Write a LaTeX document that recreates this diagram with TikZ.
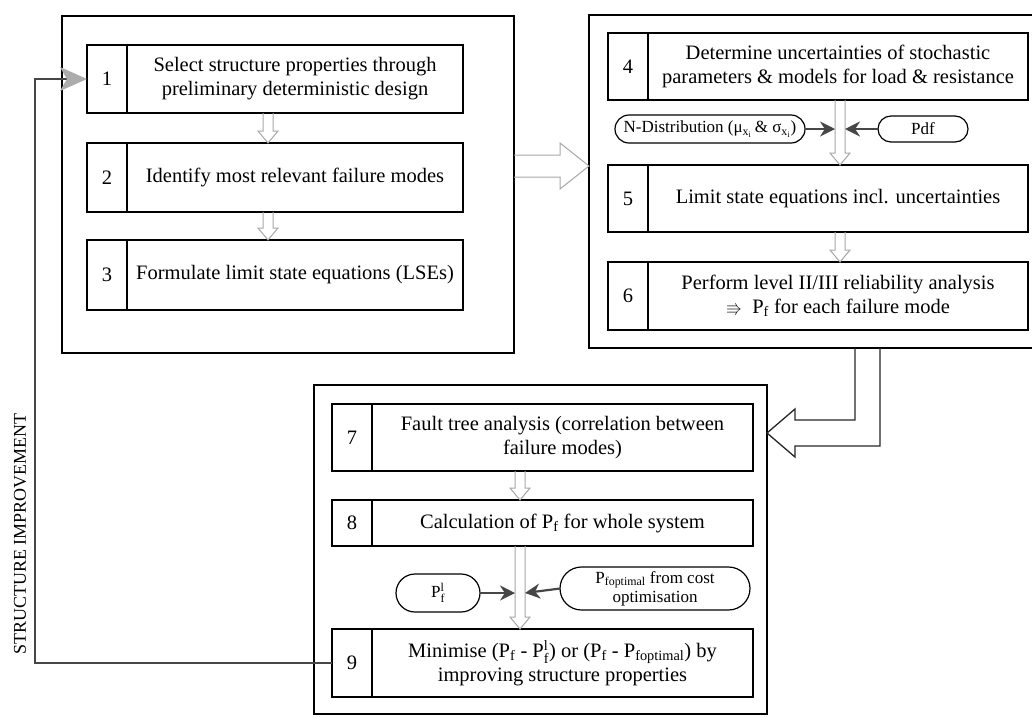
\documentclass[tikz,border=0pt]{standalone}
\usepackage{fontspec}
\setmainfont{Liberation Serif}
\usepackage{amssymb}
\usepackage{tikz}
\usetikzlibrary{positioning,arrows.meta,shapes.misc,calc}
\tikzset{
	every picture/.style={x=1pt, y=-1pt},
	outerbox/.style={draw, line width=1.6pt, outer sep=0pt},
	numbox/.style={draw, line width=1.4pt, outer sep=0pt, inner sep=0pt, minimum width=40, font=\fontsize{20.5}{24}\selectfont},
	textbox/.style={draw, line width=1.4pt, outer sep=0pt, inner sep=2pt, align=center, font=\fontsize{20.5}{24}\selectfont},
	oval/.style={draw, rounded rectangle, line width=1.2pt, outer sep=0pt, inner sep=0pt, align=center, font=\fontsize{17}{19}\selectfont},
	hollow/.style={draw=gray!70, line width=1pt},
	elbow/.style={draw=black!85, line width=1.3pt},
	feed/.style={draw=gray!55!black, line width=2pt},
	ovalarrow/.style={draw=gray!55!black, line width=2.2pt, -{Stealth[length=15pt,width=15pt,color=gray!55!black]}},
	>=latex
}
\newcommand{\Pf}{P\textsubscript{f}}
\newcommand{\Pfl}{$\mathrm{P}_{\mathrm{f}}^{\mathrm{l}}$}
% hollow arrow: from node, to node, x position
\newcommand{\hollowdown}[3]{%
	\draw[hollow] let \p0=(#3,0), \p1=(#1.south), \p2=(#2.north) in
	(\x0-5,\y1) -- (\x0-5,\y2+12) -- (\x0-10,\y2+12) -- (\x0,\y2) -- (\x0+10,\y2+12) -- (\x0+5,\y2+12) -- (\x0+5,\y1);}

\begin{document}
\begin{tikzpicture}
	\useasboundingbox (0,0) rectangle (1032,716);
	
	% three stages
	\node[outerbox, minimum width=452, minimum height=337] (boxA) at (288,184.5) {};
	\node[outerbox, minimum width=445, minimum height=333] (boxB) at (811.5,181.5) {};
	\node[outerbox, minimum width=453, minimum height=329] (boxC) at (540.5,549.5) {};
	
	% stage A
	\node[numbox, minimum height=68] (n1) at (107,79) {1};
	\node[textbox, minimum width=336, minimum height=68, right=0pt of n1] (b1) {Select structure properties through\\preliminary deterministic design};
	\node[numbox, minimum height=69] (n2) at (107,177.5) {2};
	\node[textbox, minimum width=336, minimum height=69, right=0pt of n2] (b2) {Identify most relevant failure modes};
	\node[numbox, minimum height=70] (n3) at (107,275) {3};
	\node[textbox, minimum width=336, minimum height=70, right=0pt of n3] (b3) {Formulate limit state equations (LSEs)};
	\hollowdown{b1}{b2}{268}
	\hollowdown{b2}{b3}{268}
	
	% stage B
	\node[numbox, minimum height=67] (n4) at (628,66.5) {4};
	\node[textbox, minimum width=380, minimum height=67, right=0pt of n4] (b4) {Determine uncertainties of stochastic\\parameters \& models for load \& resistance};
	\node[oval, minimum width=190, minimum height=28] (ndist) at (710,129) {N-Distribution (μ\textsubscript{x\textsubscript{i}}\,\& σ\textsubscript{x\textsubscript{i}})};
	\node[oval, minimum width=90, minimum height=26] (pdf) at (923,129) {Pdf};
	\node[numbox, minimum height=67] (n5) at (628,198.5) {5};
	\node[textbox, minimum width=380, minimum height=67, right=0pt of n5] (b5) {Limit state equations incl. uncertainties};
	\node[numbox, minimum height=68] (n6) at (628,296) {6};
	\node[textbox, minimum width=380, minimum height=68, right=0pt of n6] (b6) {Perform level II/III reliability analysis\\{\fontsize{16}{16}\selectfont$\Rrightarrow$}\ \ \Pf{} for each failure mode};
	\coordinate (s4) at (840,129);
	\hollowdown{b4}{b5}{840}
	\hollowdown{b5}{b6}{840}
	\draw[ovalarrow] (ndist.east) -- ([xshift=-5]s4);
	\draw[ovalarrow] (pdf.west) -- ([xshift=5]s4);
	
	% stage C
	\node[numbox, minimum height=67] (n7) at (352,437.5) {7};
	\node[textbox, minimum width=381, minimum height=67, right=0pt of n7] (b7) {Fault tree analysis (correlation between\\failure modes)};
	\node[numbox, minimum height=46] (n8) at (352,523) {8};
	\node[textbox, minimum width=381, minimum height=46, right=0pt of n8] (b8) {Calculation of \Pf{} for whole system};
	\node[oval, minimum width=84, minimum height=38] (pfl) at (438,593) {\Pfl};
	\node[oval, minimum width=190, minimum height=43] (popt) at (655,588.5) {P\textsubscript{foptimal} from cost\\optimisation};
	\node[numbox, minimum height=68] (n9) at (352,663) {9};
	\node[textbox, minimum width=381, minimum height=68, right=0pt of n9] (b9) {Minimise (\Pf{} - \Pfl) or (\Pf{} - P\textsubscript{foptimal}) by\\improving structure properties};
	\coordinate (s8) at (520,593);
	\hollowdown{b7}{b8}{520}
	\hollowdown{b8}{b9}{520}
	\draw[ovalarrow] (pfl.east) -- ([xshift=-5]s8);
	\draw[ovalarrow] (popt.west) -- ([xshift=5]s8);
	
	% big arrows between stages
	\draw[hollow] let \p1=(boxA.east), \p2=(boxB.west) in
	(\x1,-155pt) -- (\x2-29,-155pt) -- (\x2-29,-143pt) -- (\x2,-166pt) -- (\x2-29,-189pt) -- (\x2-29,-177pt) -- (\x1,-177pt);
	\draw[elbow] let \p1=(boxB.south), \p2=(boxC.east) in
	(855pt,\y1) -- (855pt,-420pt) -- (\x2+28,-420pt) -- (\x2+28,-409pt) -- (\x2,-433pt) -- (\x2+28,-457pt) -- (\x2+28,-446pt) -- (880pt,-446pt) -- (880pt,\y1);
	
	% feedback loop
	\coordinate (fb) at (35,0);
	\draw[feed, -{Stealth[length=27pt,width=24pt,inset=7pt,color=gray!65]}] (n9.west) -- (n9.west -| fb) -- (n1.west -| fb) -- (n1.west);
	\node[rotate=90, font=\fontsize{18}{18}\selectfont] (loop) at (20,534) {STRUCTURE IMPROVEMENT};
\end{tikzpicture}
\end{document}
